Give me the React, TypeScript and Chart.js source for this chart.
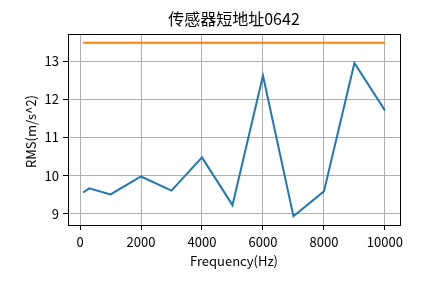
import React, { useEffect, useRef } from "react";
import { Chart, registerables } from "chart.js";

Chart.register(...registerables);

const title = "传感器短地址0642";
const xLabel = "Frequency(Hz)";
const yLabel = "RMS(m/s^2)";
const freqs = [100, 300, 1000, 2000, 3000, 4000, 5000, 6000, 7000, 8000, 9000, 10000];
const rms = [9.56, 9.67, 9.51, 9.98, 9.61, 10.48, 9.23, 12.62, 8.94, 9.59, 12.95, 11.71];
const threshold = [13.48, 13.48, 13.48, 13.48, 13.48, 13.48, 13.48, 13.48, 13.48, 13.48, 13.48, 13.48];
const xTicks = [0, 2000, 4000, 6000, 8000, 10000];
const yTicks = [9, 10, 11, 12, 13];

const FONT = "'Noto Sans CJK SC', 'DejaVu Sans', sans-serif";

const decor = {
  id: "decor",
  afterDraw(chart: any) {
    const { ctx, chartArea } = chart;
    const { left, right, top, bottom } = chartArea;
    ctx.save();
    ctx.strokeStyle = "#000";
    ctx.lineWidth = 1;
    ctx.strokeRect(Math.round(left) + 0.5, Math.round(top) + 0.5, Math.round(right - left), Math.round(bottom - top));
    ctx.fillStyle = "#000";
    ctx.textAlign = "center";
    ctx.textBaseline = "middle";
    ctx.font = `16px ${FONT}`;
    ctx.fillText(title, (left + right) / 2, 19);
    ctx.font = `13px ${FONT}`;
    ctx.fillText(xLabel, (left + right) / 2, 261);
    ctx.translate(31, (top + bottom) / 2 + 2);
    ctx.rotate(-Math.PI / 2);
    ctx.fillText(yLabel, 0, 0);
    ctx.restore();
  },
};

export default function App() {
  const ref = useRef<HTMLCanvasElement>(null);
  useEffect(() => {
    document.body.style.margin = "0";
    const chart = new Chart(ref.current!, {
      type: "line",
      data: {
        datasets: [
          {
            data: freqs.map((f, i) => ({ x: f, y: rms[i] })),
            borderColor: "#1f77b4",
            borderWidth: 2,
            pointRadius: 0,
            tension: 0,
          },
          {
            data: freqs.map((f, i) => ({ x: f, y: threshold[i] })),
            borderColor: "#ff7f0e",
            borderWidth: 2,
            pointRadius: 0,
            tension: 0,
          },
        ],
      },
      options: {
        animation: false,
        responsive: false,
        layout: { padding: { top: 34, right: 44, left: 0, bottom: 0 } },
        plugins: { legend: { display: false }, tooltip: { enabled: false }, title: { display: false } },
        scales: {
          x: {
            type: "linear",
            min: -395,
            max: 10495,
            afterFit: (s: any) => { s.height = 58; },
            afterBuildTicks: (s: any) => { s.ticks = xTicks.map((v) => ({ value: v })); },
            ticks: { color: "#000", font: { family: FONT, size: 13 }, padding: 4, maxRotation: 0, autoSkip: false, callback: (v: any) => String(v) },
            grid: { color: "#b0b0b0", lineWidth: 1, tickColor: "#000", tickLength: 5 },
            border: { color: "#000" },
          },
          y: {
            type: "linear",
            min: 8.71,
            max: 13.71,
            afterFit: (s: any) => { s.width = 68; },
            afterBuildTicks: (s: any) => { s.ticks = yTicks.map((v) => ({ value: v })); },
            ticks: { color: "#000", font: { family: FONT, size: 13 }, padding: 4, autoSkip: false, callback: (v: any) => String(v) },
            grid: { color: "#b0b0b0", lineWidth: 1, tickColor: "#000", tickLength: 5 },
            border: { color: "#000" },
          },
        },
      },
      plugins: [decor],
    });
    return () => chart.destroy();
  }, []);
  return <canvas ref={ref} width={444} height={283} style={{ display: "block" }} />;
}
